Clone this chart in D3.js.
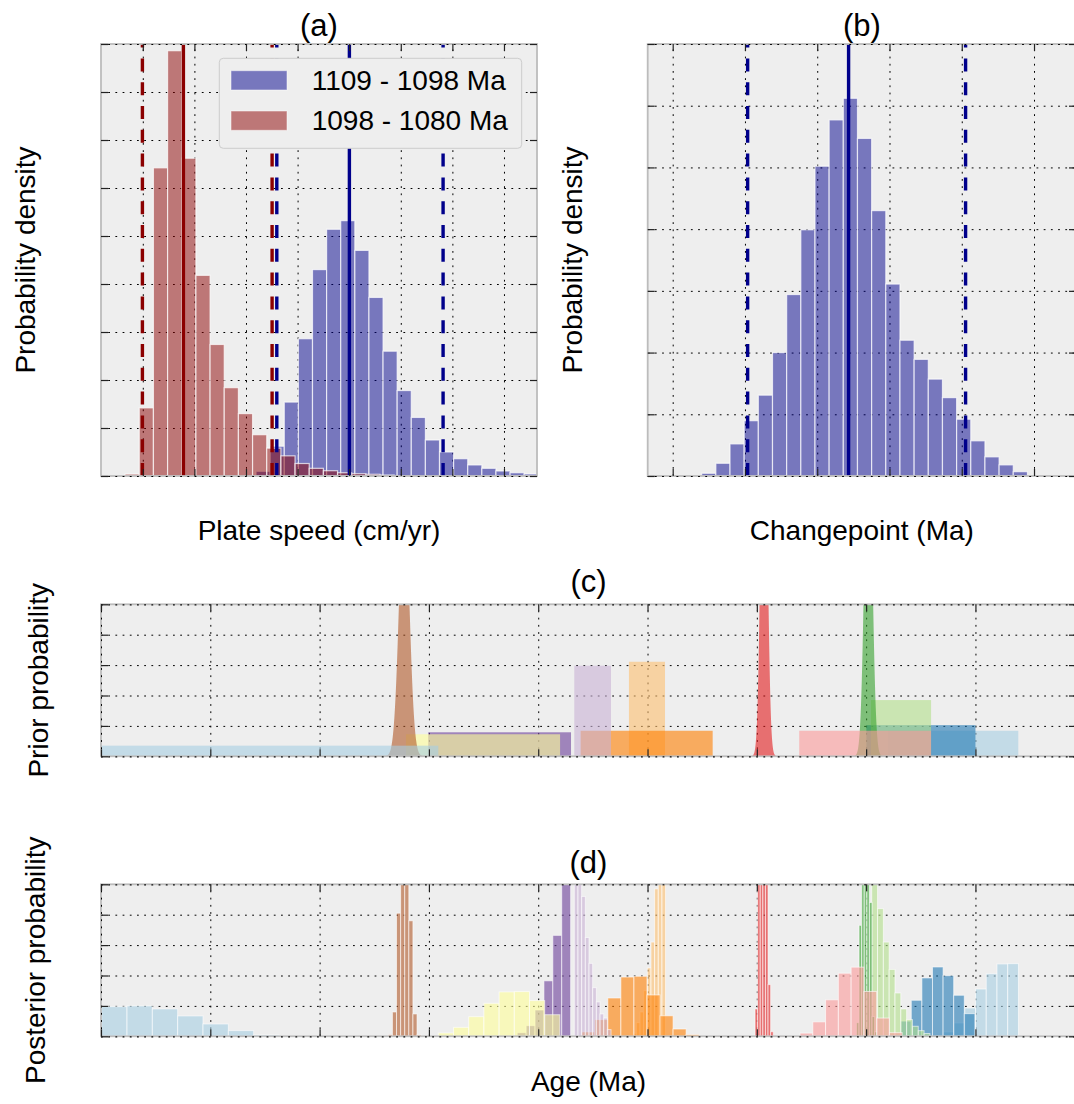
<!DOCTYPE html>
<html>
<head>
<meta charset="utf-8">
<title>Plate speed, changepoint and age posteriors</title>
<script src="https://cdn.jsdelivr.net/npm/d3@7"></script>
<style>
  html, body { margin: 0; padding: 0; background: #ffffff; }
  svg text { font-family: "Liberation Sans", Arial, Helvetica, sans-serif; fill: #000; }
</style>
</head>
<body>
<svg id="fig" width="1074" height="1104"></svg>
<script>
// ---------- (a) plate speed histograms (cm/yr) ----------
const speedTicks = [2, 4, 6, 8, 10, 12, 14, 16];
const speedDensityTicks = [0, 0.05, 0.1, 0.15, 0.2, 0.25, 0.3, 0.35, 0.4, 0.45];
const speedSeries = ["1109 - 1098 Ma", "1098 - 1080 Ma"];
const speedBinStart = [6.39, 1.314];
const speedBinWidth = [0.547, 0.549];
const speedDensityOld = [0.0049, 0.031, 0.077, 0.143, 0.215, 0.257, 0.266, 0.235, 0.186, 0.130,
                         0.089, 0.061, 0.0375, 0.025, 0.018, 0.0115, 0.008, 0.0052, 0.0034, 0.0021];
const speedDensityYoung = [0.002, 0.071, 0.321, 0.443, 0.331, 0.209, 0.137, 0.092, 0.065, 0.043,
                           0.029, 0.021, 0.013, 0.008, 0.0055, 0.0034, 0.0024, 0.0018, 0.001];
// 2.5th percentile, median, 97.5th percentile
const speedIntervalOld = [7.194, 10.008, 13.64];
const speedIntervalYoung = [1.985, 3.574, 7.012];

// ---------- (b) changepoint histogram (Ma) ----------
const changeTicks = [1096, 1097, 1098, 1099, 1100, 1101];
const changeDensityTicks = [0, 0.1, 0.2, 0.3, 0.4, 0.5, 0.6, 0.7];
const changeBinStart = 1096.401;
const changeBinWidth = 0.196;
const changeDensity = [0.0044, 0.0206, 0.052, 0.0896, 0.131, 0.2, 0.294, 0.399, 0.502, 0.577, 0.612,
                       0.547, 0.430, 0.311, 0.220, 0.189, 0.157, 0.127, 0.092, 0.057, 0.031, 0.018, 0.007];
const changeInterval = [1097.037, 1098.434, 1100.053];

// ---------- (c), (d) pole age priors and posteriors (Ma) ----------
const ageTicks = [1070, 1075, 1080, 1085, 1090, 1095, 1100, 1105, 1110];
const probTicks = [0, 0.2, 0.4, 0.6, 0.8, 1.0];
const poleColors = ["#a6cee3", "#1f78b4", "#b2df8a", "#33a02c", "#fb9a99", "#e31a1c",
                    "#fdbf6f", "#ff7f00", "#cab2d6", "#6a3d9a", "#ffff99", "#b15928", "#a6cee3"];
// uniform priors (null where the prior is normal)
const uniformLo      = [1106.0, 1105.01, 1105.22, null, 1101.94, null, 1094.15, 1091.94, 1091.65, 1084.97, 1083.95, null, 1060.0];
const uniformHi      = [1111.96, 1110.0, 1107.97, null, 1107.97, null, 1095.80, 1097.98, 1093.33, 1091.50, 1091.00, null, 1085.43];
const uniformDensity = [0.168, 0.205, 0.370, null, 0.168, null, 0.622, 0.168, 0.596, 0.158, 0.145, null, 0.070];
// normal priors (null where the prior is uniform)
const normalMean  = [null, null, null, 1105.10, null, 1100.33, null, null, null, null, null, 1083.87, null];
const normalSigma = [null, null, null, 0.17, null, 0.145, null, null, null, null, null, 0.23, null];
// posterior histograms
const postBinStart = [1108.53, 1106.58, 1105.256, 1104.556, 1101.977, 1099.918, 1094.323, 1091.99,
                      1091.651, 1089.04, 1085.43, 1083.143, 1070.03];
const postBinWidth = [0.491, 0.485, 0.266, 0.119, 0.584, 0.119, 0.167, 0.597, 0.168, 0.407, 0.695, 0.1876, 1.159];
const postDensity = [
  [0.029, 0.088, 0.186, 0.311, 0.412, 0.476, 0.478],
  [0.10, 0.237, 0.384, 0.456, 0.399, 0.27, 0.149],
  [1.16, 0.84, 0.62, 0.44, 0.285, 0.18, 0.11, 0.066, 0.037, 0.018],
  [0.09, 0.73, 2.0, 2.3, 2.1, 0.88, 0.13, 0.03],
  [0.021, 0.095, 0.24, 0.415, 0.455, 0.295, 0.12, 0.024],
  [0.18, 1.5, 2.4, 2.4, 1.6, 0.34, 0.03],
  [0.02, 0.09, 0.16, 0.3, 0.45, 0.62, 0.97, 1.7, 1.68],
  [0.029, 0.11, 0.252, 0.39, 0.395, 0.272, 0.135, 0.048, 0.011],
  [1.5, 1.54, 0.92, 0.65, 0.48, 0.32, 0.226, 0.147, 0.12, 0.044],
  [0.024, 0.07, 0.173, 0.365, 0.664, 1.16],
  [0.022, 0.059, 0.129, 0.217, 0.292, 0.294, 0.235, 0.142],
  [0.011, 0.16, 0.81, 1.7, 1.73, 0.76, 0.147, 0.009],
  [0.195, 0.2, 0.18, 0.134, 0.081, 0.0373, 0.0088]
];

// ---------- layout ----------
const svg = d3.select("#fig");
const FONT = 28;
const TITLE_FONT = 31;
const boxA = { left: 101, right: 537, top: 44, bottom: 476 };
const boxB = { left: 647.7, right: 1076, top: 44, bottom: 476 };
const boxC = { left: 101, right: 1076, top: 604.3, bottom: 756.3 };
const boxD = { left: 101, right: 1076, top: 884.3, bottom: 1036.3 };

const xA = d3.scaleLinear().domain([0.38, 17.28]).range([boxA.left, boxA.right]);
const yA = d3.scaleLinear().domain([0, 0.45]).range([boxA.bottom, boxA.top]);
const xB = d3.scaleLinear().domain([1095.654, 1101.581]).range([boxB.left, boxB.right]);
const yB = d3.scaleLinear().domain([0, 0.7]).range([boxB.bottom, boxB.top]);
const xAge = d3.scaleLinear().domain([1070, 1114.6]);
const xC = xAge.copy().range([boxC.left, boxC.right]);
const yC = d3.scaleLinear().domain([0, 1]).range([boxC.bottom, boxC.top]);
const xD = xAge.copy().range([boxD.left, boxD.right]);
const yD = d3.scaleLinear().domain([0, 1]).range([boxD.bottom, boxD.top]);

const defs = svg.append("defs");
let clipCount = 0;

// axes background, dotted grid and a clipped layer for the marks
function makePanel(box, x, y, xt, yt) {
  const g = svg.append("g");
  const w = box.right - box.left, h = box.bottom - box.top;
  g.append("rect").attr("x", box.left).attr("y", box.top).attr("width", w).attr("height", h)
    .attr("fill", "#eeeeee");
  const grid = g.append("g").attr("class", "grid");
  drawGrid(grid, box, x, y, xt, yt);
  const id = "clip" + (clipCount++);
  defs.append("clipPath").attr("id", id).append("rect")
    .attr("x", box.left).attr("y", box.top).attr("width", w).attr("height", h);
  const marks = g.append("g").attr("clip-path", `url(#${id})`);
  return { g, marks, box, x, y, xt, yt };
}

function styleGrid(sel) {
  sel.select(".domain").remove();
  sel.selectAll(".tick line").attr("stroke", "#000").attr("stroke-width", 1)
    .attr("stroke-dasharray", "1.8,5.4");
}

function drawGrid(grid, box, x, y, xt, yt) {
  const w = box.right - box.left, h = box.bottom - box.top;
  grid.append("g").attr("transform", `translate(0,${box.bottom})`)
    .call(d3.axisBottom(x).tickValues(xt).tickSize(-h).tickFormat("")).call(styleGrid);
  grid.append("g").attr("transform", `translate(${box.left},0)`)
    .call(d3.axisLeft(y).tickValues(yt).tickSize(-w).tickFormat("")).call(styleGrid);
}

// spines, inward ticks, and the grid lines that sit on the spines
function finishPanel(p) {
  const { g, box, x, y, xt, yt } = p;
  g.append("rect").attr("x", box.left).attr("y", box.top)
    .attr("width", box.right - box.left).attr("height", box.bottom - box.top)
    .attr("fill", "none").attr("stroke", "#bcbcbc").attr("stroke-width", 1.8);
  const [x0, x1] = x.domain(), [y0, y1] = y.domain();
  const eps = 1e-9;
  const edgeX = xt.filter(v => Math.abs(v - x0) < eps || Math.abs(v - x1) < eps);
  const edgeY = yt.filter(v => Math.abs(v - y0) < eps || Math.abs(v - y1) < eps);
  drawGrid(g.append("g"), box, x, y, edgeX, edgeY);
  const L = 7;
  const tickStyle = sel => {
    sel.select(".domain").remove();
    sel.selectAll(".tick line").attr("stroke", "#222").attr("stroke-width", 1.2);
  };
  g.append("g").attr("transform", `translate(0,${box.bottom})`)
    .call(d3.axisBottom(x).tickValues(xt).tickSize(-L).tickFormat("")).call(tickStyle);
  g.append("g").attr("transform", `translate(0,${box.top})`)
    .call(d3.axisTop(x).tickValues(xt).tickSize(-L).tickFormat("")).call(tickStyle);
  g.append("g").attr("transform", `translate(${box.left},0)`)
    .call(d3.axisLeft(y).tickValues(yt).tickSize(-L).tickFormat("")).call(tickStyle);
  g.append("g").attr("transform", `translate(${box.right},0)`)
    .call(d3.axisRight(y).tickValues(yt).tickSize(-L).tickFormat("")).call(tickStyle);
}

function histogram(layer, x, y, start, width, values, color, opacity, edgeOpacity, edgeWidth) {
  layer.append("g").selectAll("rect").data(values).join("rect")
    .attr("x", (d, i) => x(start + i * width))
    .attr("width", (d, i) => x(start + (i + 1) * width) - x(start + i * width))
    .attr("y", d => y(d))
    .attr("height", d => y(0) - y(d))
    .attr("fill", color).attr("fill-opacity", opacity)
    .attr("stroke", "#ffffff").attr("stroke-opacity", edgeOpacity).attr("stroke-width", edgeWidth);
}

function intervalLines(layer, x, y, values, color) {
  const [ylo, yhi] = y.domain();
  values.forEach((v, i) => {
    layer.append("line")
      .attr("x1", x(v)).attr("x2", x(v)).attr("y1", y(ylo)).attr("y2", y(yhi))
      .attr("stroke", color).attr("stroke-width", 3.4)
      .attr("stroke-dasharray", i === 1 ? null : "13,10.8");
  });
}

function title(text, cx, baseline) {
  svg.append("text").attr("x", cx).attr("y", baseline).attr("text-anchor", "middle")
    .attr("font-size", TITLE_FONT).text(text);
}
function xLabel(text, cx, baseline) {
  svg.append("text").attr("x", cx).attr("y", baseline).attr("text-anchor", "middle")
    .attr("font-size", FONT).text(text);
}
function yLabel(text, baselineX, cy) {
  svg.append("text").attr("transform", `translate(${baselineX},${cy}) rotate(-90)`)
    .attr("text-anchor", "middle").attr("font-size", FONT).text(text);
}

// ---------- panel (a) ----------
const pA = makePanel(boxA, xA, yA, speedTicks, speedDensityTicks);
histogram(pA.marks, xA, yA, speedBinStart[0], speedBinWidth[0], speedDensityOld, "#00008b", 0.5, 0.7, 1.2);
histogram(pA.marks, xA, yA, speedBinStart[1], speedBinWidth[1], speedDensityYoung, "#8b0000", 0.5, 0.7, 1.2);
intervalLines(pA.marks, xA, yA, speedIntervalOld, "#00008b");
intervalLines(pA.marks, xA, yA, speedIntervalYoung, "#8b0000");
finishPanel(pA);

// legend
const leg = svg.append("g");
leg.append("rect").attr("x", 219.3).attr("y", 58.3).attr("width", 302.4).attr("height", 90)
  .attr("rx", 4).attr("fill", "#eeeeee").attr("stroke", "#cccccc").attr("stroke-width", 1);
const legColors = ["#00008b", "#8b0000"];
speedSeries.forEach((name, i) => {
  const yy = 70.7 + i * 40.3;
  leg.append("rect").attr("x", 231).attr("y", yy).attr("width", 56).attr("height", 19.3)
    .attr("fill", legColors[i]).attr("fill-opacity", 0.5)
    .attr("stroke", "#ffffff").attr("stroke-opacity", 0.5).attr("stroke-width", 1);
  leg.append("text").attr("x", 311.7).attr("y", yy + 19.3).attr("font-size", FONT).text(name);
});

// ---------- panel (b) ----------
const pB = makePanel(boxB, xB, yB, changeTicks, changeDensityTicks);
histogram(pB.marks, xB, yB, changeBinStart, changeBinWidth, changeDensity, "#00008b", 0.5, 0.7, 1.2);
intervalLines(pB.marks, xB, yB, changeInterval, "#00008b");
finishPanel(pB);

// ---------- panel (c): priors ----------
const pC = makePanel(boxC, xC, yC, ageTicks, probTicks);
const normalPdf = (t, m, s) => Math.exp(-0.5 * ((t - m) / s) ** 2) / (s * Math.sqrt(2 * Math.PI));
poleColors.forEach((color, i) => {
  if (uniformLo[i] !== null) {
    pC.marks.append("rect")
      .attr("x", xC(uniformLo[i])).attr("width", xC(uniformHi[i]) - xC(uniformLo[i]))
      .attr("y", yC(uniformDensity[i])).attr("height", yC(0) - yC(uniformDensity[i]))
      .attr("fill", color).attr("fill-opacity", 0.6);
  } else {
    const m = normalMean[i], s = normalSigma[i];
    const pts = d3.range(m - 5 * s, m + 5 * s + 1e-9, s / 25);
    const area = d3.area().x(t => xC(t)).y0(yC(0)).y1(t => yC(normalPdf(t, m, s)));
    pC.marks.append("path").attr("d", area(pts)).attr("fill", color).attr("fill-opacity", 0.6);
  }
});
finishPanel(pC);

// ---------- panel (d): posteriors ----------
const pD = makePanel(boxD, xD, yD, ageTicks, probTicks);
poleColors.forEach((color, i) => {
  histogram(pD.marks, xD, yD, postBinStart[i], postBinWidth[i], postDensity[i], color, 0.6, 0.6, 1);
});
finishPanel(pD);

// ---------- titles and labels ----------
title("(a)", (boxA.left + boxA.right) / 2, 35.6);
title("(b)", (boxB.left + boxB.right) / 2, 35.6);
title("(c)", (boxC.left + boxC.right) / 2, 592);
title("(d)", (boxD.left + boxD.right) / 2, 873);
xLabel("Plate speed (cm/yr)", (boxA.left + boxA.right) / 2, 540);
xLabel("Changepoint (Ma)", (boxB.left + boxB.right) / 2, 540);
xLabel("Age (Ma)", (boxD.left + boxD.right) / 2, 1091);
yLabel("Probability density", 35, (boxA.top + boxA.bottom) / 2);
yLabel("Probability density", 582, (boxB.top + boxB.bottom) / 2);
yLabel("Prior probability", 48, (boxC.top + boxC.bottom) / 2);
yLabel("Posterior probability", 45, (boxD.top + boxD.bottom) / 2);
</script>
</body>
</html>
